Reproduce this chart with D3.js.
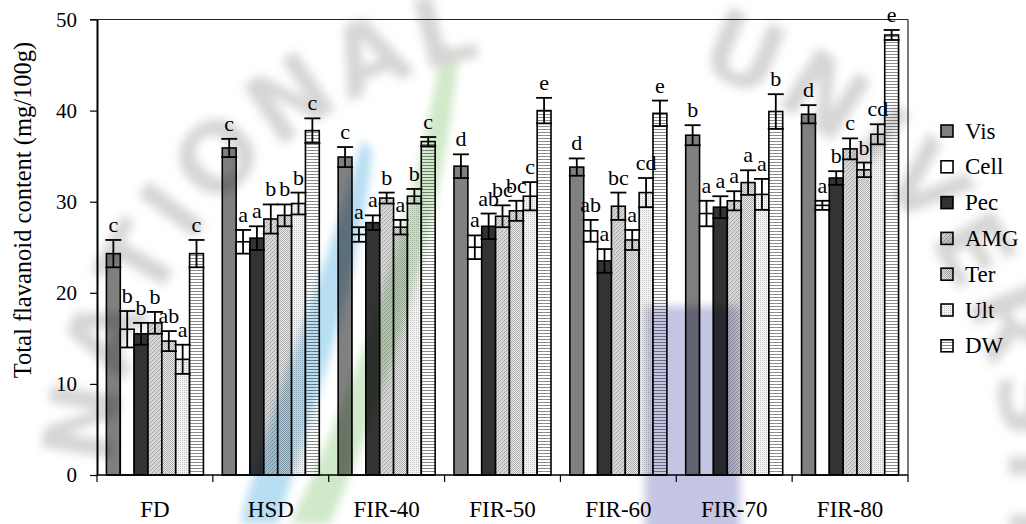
<!DOCTYPE html>
<html>
<head>
<meta charset="utf-8">
<script src="https://cdn.jsdelivr.net/npm/d3@7"></script>
<style>
  html, body { margin: 0; padding: 0; background: #fff; }
  svg { display: block; }
  text { font-family: "Liberation Serif", "Times New Roman", serif; fill: #000; }
</style>
</head>
<body>
<svg id="chart" width="1026" height="524"></svg>
<script>
// Treatments along the x axis and the seven extraction series
const groups = ["FD", "HSD", "FIR-40", "FIR-50", "FIR-60", "FIR-70", "FIR-80"];
const series = ["Vis", "Cell", "Pec", "AMG", "Ter", "Ult", "DW"];

// Mean total flavanoid content (mg/100g), one array per series
const vis  = [24.3, 35.9, 34.9, 33.9, 33.8, 37.3, 39.6];
const cell = [16.0, 25.6, 26.4, 25.0, 26.8, 28.7, 29.6];
const pec  = [15.5, 26.0, 27.7, 27.3, 23.5, 29.4, 32.6];
const amg  = [16.7, 28.1, 30.4, 28.4, 29.5, 30.1, 35.8];
const ter  = [14.7, 28.5, 27.2, 29.0, 25.8, 32.1, 33.5];
const ult  = [12.7, 29.8, 30.6, 30.6, 31.0, 30.8, 37.4];
const dw   = [24.3, 37.8, 36.6, 40.0, 39.7, 39.9, 48.3];

// Standard deviations
const visErr  = [1.5, 1.0, 1.1, 1.3, 0.95, 1.1, 1.0];
const cellErr = [2.0, 1.3, 0.8, 1.3, 1.2, 1.4, 0.5];
const pecErr  = [1.2, 1.3, 0.8, 1.4, 1.3, 1.2, 0.75];
const amgErr  = [1.2, 1.6, 0.6, 1.2, 1.5, 1.05, 1.15];
const terErr  = [1.1, 1.2, 0.8, 1.1, 1.1, 1.35, 0.8];
const ultErr  = [1.6, 1.2, 0.8, 1.55, 1.6, 1.7, 1.1];
const dwErr   = [1.5, 1.35, 0.5, 1.4, 1.4, 1.9, 0.55];

// Significance letters
const visLetters  = ["c", "c", "c", "d", "d", "b", "d"];
const cellLetters = ["b", "a", "a", "a", "ab", "a", "a"];
const pecLetters  = ["b", "a", "a", "ab", "a", "a", "b"];
const amgLetters  = ["b", "b", "b", "bc", "bc", "a", "c"];
const terLetters  = ["ab", "b", "a", "bc", "a", "a", "b"];
const ultLetters  = ["a", "b", "b", "c", "cd", "a", "cd"];
const dwLetters   = ["c", "c", "c", "e", "e", "b", "e"];

const yTicks = [0, 10, 20, 30, 40, 50];

const means   = [vis, cell, pec, amg, ter, ult, dw];
const errs    = [visErr, cellErr, pecErr, amgErr, terErr, ultErr, dwErr];
const letters = [visLetters, cellLetters, pecLetters, amgLetters, terLetters, ultLetters, dwLetters];

const rows = [];
groups.forEach((g, gi) => {
  series.forEach((s, si) => {
    rows.push({ group: g, series: s, value: means[si][gi], err: errs[si][gi], letter: letters[si][gi] });
  });
});

const svg = d3.select("#chart");
const defs = svg.append("defs");

// Fill patterns for the textured series
function pattern(id, w, h, bg, cells) {
  const p = defs.append("pattern").attr("id", id)
    .attr("patternUnits", "userSpaceOnUse").attr("width", w).attr("height", h);
  p.append("rect").attr("width", w).attr("height", h).attr("fill", bg);
  cells.forEach(c => p.append("rect").attr("x", c[0]).attr("y", c[1])
    .attr("width", c[2]).attr("height", c[3]).attr("fill", c[4]));
}
pattern("pAMG", 4, 4, "#d6d6d6", [[0,0,1,1,"#9c9c9c"],[2,2,1,1,"#9c9c9c"],[1,3,1,1,"#b4b4b4"],[3,1,1,1,"#b4b4b4"]]);
pattern("pTer", 2, 2, "#e9e9e9", [[0,0,1,1,"#aeaeae"],[1,1,1,1,"#aeaeae"]]);
pattern("pUlt", 2, 2, "#f3f3f3", [[0,0,1,1,"#c6c6c6"]]);
pattern("pDW", 3, 3, "#ffffff", [[0,0,3,1,"#8a8a8a"]]);

const fills = {
  Vis: "#808080", Cell: "#ffffff", Pec: "#333333",
  AMG: "url(#pAMG)", Ter: "url(#pTer)", Ult: "url(#pUlt)", DW: "url(#pDW)"
};

const plotL = 97, plotR = 908, plotT = 19.5, plotB = 475;

const x0 = d3.scaleBand().domain(groups).range([plotL, plotR]).paddingInner(0).paddingOuter(0);
const x1 = d3.scaleBand().domain(series).range([0, x0.bandwidth()]).paddingInner(0).paddingOuter(0.68);
const y = d3.scaleLinear().domain([0, 50]).range([plotB, plotT]);

// Frame: top and right border lines
svg.append("line").attr("x1", plotL - 7).attr("x2", plotR).attr("y1", plotT).attr("y2", plotT)
  .attr("stroke", "#222").attr("stroke-width", 1.2);
svg.append("line").attr("x1", plotR).attr("x2", plotR).attr("y1", plotT).attr("y2", plotB)
  .attr("stroke", "#222").attr("stroke-width", 1.2);

// Bars
const bars = svg.append("g");
bars.selectAll("rect").data(rows).join("rect")
  .attr("x", d => x0(d.group) + x1(d.series))
  .attr("y", d => y(d.value))
  .attr("width", x1.bandwidth())
  .attr("height", d => y(0) - y(d.value))
  .attr("fill", d => fills[d.series])
  .attr("stroke", "#000").attr("stroke-width", 1.6);

// Error bars with caps
const capHalf = 8;
const eb = svg.append("g").attr("stroke", "#000").attr("stroke-width", 1.8);
rows.forEach(d => {
  const cx = x0(d.group) + x1(d.series) + x1.bandwidth() / 2;
  const yt = y(d.value + d.err), yb = y(d.value - d.err);
  eb.append("line").attr("x1", cx).attr("x2", cx).attr("y1", yt).attr("y2", yb);
  eb.append("line").attr("x1", cx - capHalf).attr("x2", cx + capHalf).attr("y1", yt).attr("y2", yt);
  eb.append("line").attr("x1", cx - capHalf).attr("x2", cx + capHalf).attr("y1", yb).attr("y2", yb);
});

// Significance letters above each error bar
svg.append("g").selectAll("text").data(rows).join("text")
  .attr("x", d => x0(d.group) + x1(d.series) + x1.bandwidth() / 2)
  .attr("y", d => y(d.value + d.err) - 8)
  .attr("text-anchor", "middle")
  .style("font-size", "22px")
  .text(d => d.letter);

// Y axis
const yAxis = svg.append("g").attr("transform", `translate(${plotL},0)`)
  .call(d3.axisLeft(y).tickValues(yTicks).tickSize(7).tickPadding(13).tickSizeOuter(0));
yAxis.attr("font-family", null);
yAxis.select(".domain").attr("stroke", "#000").attr("stroke-width", 2);
yAxis.selectAll(".tick line").attr("stroke", "#000").attr("stroke-width", 1.2);
yAxis.selectAll(".tick text").style("font-size", "21px")
  .style("font-family", "'Liberation Serif', 'Times New Roman', serif").attr("fill", "#000");

// X axis: ticks on the group boundaries, names centred in each group
const xg = svg.append("g");
xg.append("line").attr("x1", plotL).attr("x2", plotR).attr("y1", plotB).attr("y2", plotB)
  .attr("stroke", "#000").attr("stroke-width", 1.6);
const bounds = groups.map(g => x0(g)).concat([x0(groups[groups.length - 1]) + x0.bandwidth()]);
xg.selectAll("line.tk").data(bounds).join("line").attr("class", "tk")
  .attr("x1", d => d).attr("x2", d => d).attr("y1", plotB).attr("y2", plotB + 7)
  .attr("stroke", "#000").attr("stroke-width", 1.2);
xg.selectAll("text").data(groups).join("text")
  .attr("x", d => x0(d) + x0.bandwidth() / 2)
  .attr("y", 517)
  .attr("text-anchor", "middle")
  .style("font-size", "23px")
  .text(d => d);

// Y axis title
svg.append("text")
  .attr("transform", "translate(31,210) rotate(-90)")
  .attr("text-anchor", "middle")
  .style("font-size", "24.5px")
  .text("Total flavanoid content (mg/100g)");

// Legend
const lg = svg.append("g");
series.forEach((s, i) => {
  const ty = 125 + i * 35.8;
  lg.append("rect").attr("x", 941).attr("y", ty).attr("width", 12).attr("height", 12)
    .attr("fill", fills[s]).attr("stroke", "#000").attr("stroke-width", 1.6);
  lg.append("text").attr("x", 965).attr("y", ty + 13.5).style("font-size", "23px").text(s);
});

// Faint emblem laid over the figure
const blur = defs.append("filter").attr("id", "soft").attr("x", "-20%").attr("y", "-20%")
  .attr("width", "140%").attr("height", "140%");
blur.append("feGaussianBlur").attr("stdDeviation", 4);
const blur2 = defs.append("filter").attr("id", "soft2").attr("x", "-30%").attr("y", "-30%")
  .attr("width", "160%").attr("height", "160%");
blur2.append("feGaussianBlur").attr("stdDeviation", 5);

const em = svg.append("g").style("mix-blend-mode", "multiply").attr("pointer-events", "none");
em.append("path")
  .attr("d", "M362,140 C330,260 272,400 240,524 L278,524 C308,420 362,280 372,150 Z")
  .attr("fill", "#b7def3").attr("filter", "url(#soft)");
em.append("path")
  .attr("d", "M442,40 C420,200 360,380 290,524 L330,524 C392,380 442,220 458,60 Z")
  .attr("fill", "#d0e9c9").attr("filter", "url(#soft)");
em.append("rect").attr("x", 645).attr("y", 306).attr("width", 95).attr("height", 240)
  .attr("fill", "#c4c4e4").attr("filter", "url(#soft)");

// Emblem lettering set one glyph at a time around a circle
const ecx = 560, ecy = 500, er = 450;
function ringWord(word, startDeg) {
  let along = 0;
  for (const ch of word) {
    const t = em.append("text")
      .style("font-family", "'DejaVu Sans', sans-serif").style("font-weight", "bold")
      .style("font-size", "96px").style("fill", "#d6d6d6")
      .attr("text-anchor", "middle").attr("filter", "url(#soft2)").text(ch);
    const adv = t.node().getComputedTextLength() + 6;
    const ang = startDeg + (along + adv / 2) / er * 180 / Math.PI;
    const px = ecx + er * Math.cos(ang * Math.PI / 180);
    const py = ecy + er * Math.sin(ang * Math.PI / 180);
    t.attr("transform", `translate(${px},${py}) rotate(${ang + 90})`);
    along += adv;
  }
}
ringWord("NATIONAL", 183.8);
ringWord("UNIVERSITY", 287);
</script>
</body>
</html>
